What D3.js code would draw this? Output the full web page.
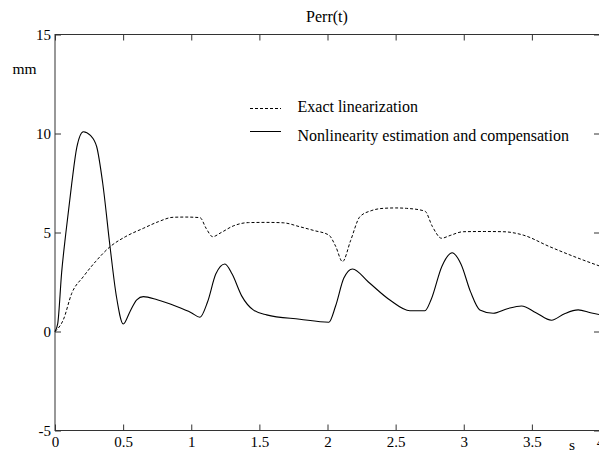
<!DOCTYPE html>
<html><head><meta charset="utf-8">
<script src="https://cdn.jsdelivr.net/npm/d3@7"></script>
<style>body{margin:0;background:#fff}svg{display:block}text{font-family:'Liberation Serif','Times New Roman',serif;fill:#000}</style>
</head><body><svg id="c" width="599" height="452"></svg>
<script>
const xTicks = [0,0.5,1,1.5,2,2.5,3,3.5,4];
const yTicks = [-5,0,5,10,15];
const exactT = [0,0.061,0.123,0.208,0.3,0.404,0.52,0.648,0.76,0.868,0.96,1.064,1.11,1.157,1.22,1.308,1.42,1.553,1.675,1.797,1.9,2.01,2.06,2.11,2.17,2.238,2.32,2.409,2.5,2.58,2.715,2.77,2.837,2.9,2.996,3.15,3.289,3.436,3.632,3.876,4.0];
const exactV = [0,0.59,1.93,2.77,3.55,4.28,4.8,5.21,5.55,5.77,5.78,5.75,5.2,4.79,5.0,5.33,5.5,5.51,5.49,5.29,5.1,4.87,4.3,3.53,4.6,5.8,6.1,6.22,6.24,6.22,6.08,5.3,4.71,4.85,5.04,5.05,5.04,4.87,4.28,3.61,3.3];
const nlT = [0,0.02,0.049,0.08,0.123,0.16,0.208,0.26,0.306,0.35,0.404,0.45,0.501,0.55,0.6,0.648,0.75,0.893,1.0,1.064,1.12,1.18,1.247,1.3,1.37,1.455,1.553,1.797,2.01,2.06,2.12,2.184,2.3,2.458,2.605,2.715,2.76,2.84,2.915,2.98,3.05,3.118,3.216,3.32,3.424,3.53,3.644,3.74,3.84,3.93,4.0];
const nlV = [0,0.4,3.0,5.0,7.48,9.3,10.09,9.9,9.33,7.5,4.28,1.8,0.38,1.0,1.6,1.76,1.6,1.26,0.95,0.72,1.5,2.9,3.41,2.9,1.8,1.09,0.84,0.62,0.47,1.3,2.7,3.16,2.5,1.59,1.05,1.05,1.6,3.3,3.98,3.4,2.0,1.09,0.92,1.15,1.29,0.95,0.57,0.9,1.09,0.95,0.85];
const seriesNames = ["Exact linearization","Nonlinearity estimation and compensation"];

const svg = d3.select("#c");
const L=55, R=600, T=34.5, B=430.5;
const x = d3.scaleLinear().domain([0,4]).range([L,R]);
const y = d3.scaleLinear().domain([-5,15]).range([B,T]);
const ax = "#333";
const FF = "'Liberation Serif','Times New Roman',serif";

svg.append("rect").attr("x",L).attr("y",T).attr("width",R-L).attr("height",B-T).attr("fill","none").attr("stroke",ax).attr("stroke-width",1);

const fmt = d=>String(d);
const gb = svg.append("g").attr("transform",`translate(0,${B})`).call(d3.axisBottom(x).tickValues(xTicks).tickSizeInner(-6).tickSizeOuter(0).tickFormat(fmt));
const gt = svg.append("g").attr("transform",`translate(0,${T})`).call(d3.axisTop(x).tickValues(xTicks).tickSizeInner(-6).tickSizeOuter(0).tickFormat(""));
const gl = svg.append("g").attr("transform",`translate(${L},0)`).call(d3.axisLeft(y).tickValues(yTicks).tickSizeInner(-6).tickSizeOuter(0).tickFormat(fmt));
const gr = svg.append("g").attr("transform",`translate(${R},0)`).call(d3.axisRight(y).tickValues(yTicks).tickSizeInner(-6).tickSizeOuter(0).tickFormat(""));
[gb,gt,gl,gr].forEach(g=>{g.attr("font-family",FF).attr("font-size",15);g.select(".domain").remove();g.selectAll("line").attr("stroke",ax);g.selectAll("text").attr("fill","#000");});
gb.selectAll("text").attr("y",447-B).attr("dy",0);
gl.selectAll("text").attr("x",-4).attr("dy","0.34em");

const line = d3.line().x(d=>x(d[0])).y(d=>y(d[1])).curve(d3.curveMonotoneX);
const exact = exactT.map((t,i)=>[t,exactV[i]]);
const nl = nlT.map((t,i)=>[t,nlV[i]]);
svg.append("path").attr("d",line(exact)).attr("fill","none").attr("stroke","#000").attr("stroke-width",1).attr("stroke-dasharray","3,2");
svg.append("path").attr("d",line(nl)).attr("fill","none").attr("stroke","#000").attr("stroke-width",1.1);

svg.append("text").attr("x",327).attr("y",22).attr("text-anchor","middle").attr("font-family",FF).attr("font-size",16).text("Perr(t)");
svg.append("text").attr("x",12.5).attr("y",74).attr("font-family",FF).attr("font-size",15.5).text("mm");
svg.append("text").attr("x",569).attr("y",450).attr("font-family",FF).attr("font-size",15.5).text("s");

const lg = [[108.5,"3,2",112],[131.5,null,141]];
lg.forEach((d,i)=>{
  const l = svg.append("line").attr("x1",250).attr("x2",281).attr("y1",d[0]).attr("y2",d[0]).attr("stroke","#000").attr("stroke-width",1);
  if(d[1]) l.attr("stroke-dasharray",d[1]);
  svg.append("text").attr("x",297.5).attr("y",d[2]).attr("font-family",FF).attr("font-size",16).text(seriesNames[i]);
});
</script></body></html>
